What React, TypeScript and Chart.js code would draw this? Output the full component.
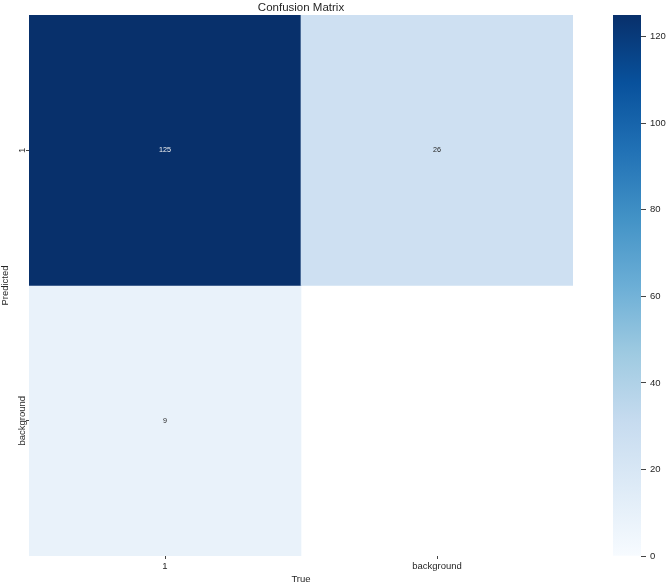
import React, { useEffect, useRef } from "react";
import { Chart, registerables } from "chart.js";

Chart.register(...registerables);

// ---- data ----
const trueLabels = ["1", "background"]; // columns (x axis, "True")
const predictedLabels = ["1", "background"]; // rows (y axis, "Predicted")
const predictedRow1: (number | null)[] = [125, 26];
const predictedRowBackground: (number | null)[] = [9, null];
const colorbarTicks = [0, 20, 40, 60, 80, 100, 120];
const colorMin = 0;
const colorMax = 125;

// ---- style ----
const BLUES = [
  "#f7fbff",
  "#deebf7",
  "#c6dbef",
  "#9ecae1",
  "#6baed6",
  "#4292c6",
  "#2171b5",
  "#08519c",
  "#08306b",
];
const FONT = '"Liberation Sans", Arial, Helvetica, sans-serif';
const TEXT = "#262626";
const TICK = "#444444";

function hexToRgb(h: string): number[] {
  const n = parseInt(h.slice(1), 16);
  return [(n >> 16) & 255, (n >> 8) & 255, n & 255];
}

function blues(t: number): string {
  const c = Math.max(0, Math.min(1, t));
  const p = c * (BLUES.length - 1);
  const i = Math.min(Math.floor(p), BLUES.length - 2);
  const f = p - i;
  const a = hexToRgb(BLUES[i]);
  const b = hexToRgb(BLUES[i + 1]);
  const m = a.map((v, k) => Math.round(v + (b[k] - v) * f));
  return `rgb(${m[0]},${m[1]},${m[2]})`;
}

const norm = (v: number) => (v - colorMin) / (colorMax - colorMin);

export default function App() {
  const mainRef = useRef<HTMLCanvasElement | null>(null);
  const barRef = useRef<HTMLCanvasElement | null>(null);

  useEffect(() => {
    const matrix = [predictedRow1, predictedRowBackground];

    const datasets = predictedLabels.map((rowLabel, i) => ({
      label: rowLabel,
      data: trueLabels.map((_, j) => (matrix[i][j] == null ? null : [i, i + 1])),
      backgroundColor: trueLabels.map((_, j) =>
        matrix[i][j] == null ? "rgba(0,0,0,0)" : blues(norm(matrix[i][j] as number))
      ),
      borderWidth: 0,
      barPercentage: 1,
      categoryPercentage: 1,
      grouped: false,
    }));

    const annotate = {
      id: "cellAnnotations",
      afterDatasetsDraw(chart: any) {
        const ctx = chart.ctx;
        ctx.save();
        ctx.font = `7.2px ${FONT}`;
        ctx.textAlign = "center";
        ctx.textBaseline = "middle";
        chart.data.datasets.forEach((_: any, di: number) => {
          const meta = chart.getDatasetMeta(di);
          meta.data.forEach((bar: any, j: number) => {
            const v = matrix[di][j];
            if (v == null) return;
            const { x, y, base } = bar.getProps(["x", "y", "base"], true);
            ctx.fillStyle = norm(v) > 0.6 ? "#f2f2f2" : TEXT;
            ctx.fillText(String(v), x, (y + base) / 2);
          });
        });
        ctx.restore();
      },
    };

    const main = new Chart(mainRef.current as HTMLCanvasElement, {
      type: "bar",
      data: { labels: trueLabels, datasets: datasets as any },
      options: {
        responsive: false,
        animation: false,
        events: [],
        layout: { padding: 0 },
        plugins: {
          legend: { display: false },
          tooltip: { enabled: false },
          title: {
            display: true,
            text: "Confusion Matrix",
            color: TEXT,
            font: { family: FONT, size: 11.5, weight: "normal" },
            padding: { top: 0.6, bottom: 0.6 },
          },
        },
        scales: {
          x: {
            type: "category",
            offset: true,
            grid: {
              offset: false,
              drawOnChartArea: false,
              drawTicks: true,
              tickLength: 3,
              tickColor: TICK,
              lineWidth: 1,
            },
            border: { display: false },
            ticks: { font: { family: FONT, size: 9.5 }, color: TEXT, padding: 2, maxRotation: 0 },
            title: {
              display: true,
              text: "True",
              color: TEXT,
              font: { family: FONT, size: 9.5 },
              padding: 0,
            },
            afterFit: (s: any) => {
              s.height = 29;
            },
          },
          y: {
            type: "linear",
            min: 0,
            max: predictedLabels.length,
            reverse: true,
            afterBuildTicks: (s: any) => {
              s.ticks = predictedLabels.map((_, i) => ({ value: i + 0.5 }));
            },
            grid: {
              drawOnChartArea: false,
              drawTicks: true,
              tickLength: 3,
              tickColor: TICK,
              lineWidth: 1,
            },
            border: { display: false },
            ticks: {
              callback: (_v: any, i: number) => predictedLabels[i],
              minRotation: 90,
              maxRotation: 90,
              crossAlign: "center",
              padding: -21.5,
              autoSkip: false,
              font: { family: FONT, size: 9.5 },
              color: TEXT,
            },
            title: {
              display: true,
              text: "Predicted",
              color: TEXT,
              font: { family: FONT, size: 9.5 },
              padding: 0,
            },
            afterFit: (s: any) => {
              s.width = 29;
            },
          },
          pad: {
            type: "linear",
            position: "right",
            display: true,
            grid: { display: false },
            ticks: { display: false },
            border: { display: false },
            afterFit: (s: any) => {
              s.width = 29;
            },
          },
        } as any,
      },
      plugins: [annotate],
    });

    const cbar = new Chart(barRef.current as HTMLCanvasElement, {
      type: "bar",
      data: {
        labels: [""],
        datasets: [
          {
            data: [[colorMin, colorMax]] as any,
            backgroundColor: (c: any) => {
              const chart = c.chart;
              const ys = chart.scales && chart.scales.y;
              if (!chart.chartArea || !ys) return BLUES[4];
              const y0 = ys.getPixelForValue(colorMin);
              const y1 = ys.getPixelForValue(colorMax);
              const g = chart.ctx.createLinearGradient(0, y0, 0, y1);
              BLUES.forEach((col, k) => g.addColorStop(k / (BLUES.length - 1), col));
              return g;
            },
            borderWidth: 0,
            barPercentage: 1,
            categoryPercentage: 1,
          },
        ],
      },
      options: {
        responsive: false,
        animation: false,
        events: [],
        layout: { padding: { left: 13, top: 15, bottom: 29, right: 0 } },
        plugins: {
          legend: { display: false },
          tooltip: { enabled: false },
          title: { display: false },
        },
        scales: {
          x: { display: false },
          y: {
            position: "right",
            min: colorMin,
            max: colorMax,
            afterBuildTicks: (s: any) => {
              s.ticks = colorbarTicks.map((v) => ({ value: v }));
            },
            ticks: {
              font: { family: FONT, size: 9.5 },
              color: TEXT,
              padding: 4,
              autoSkip: false,
            },
            grid: {
              drawOnChartArea: false,
              drawTicks: true,
              tickLength: 5,
              tickColor: TICK,
              lineWidth: 1,
            },
            border: { display: false },
            afterFit: (s: any) => {
              s.width = 26;
            },
          },
        } as any,
      },
    });

    return () => {
      main.destroy();
      cbar.destroy();
    };
  }, []);

  return (
    <div
      style={{
        position: "absolute",
        left: 0,
        top: 0,
        width: 667,
        height: 585,
        background: "#ffffff",
        overflow: "hidden",
      }}
    >
      <canvas
        ref={mainRef}
        width={602}
        height={585}
        style={{ position: "absolute", left: 0, top: 0 }}
      />
      <canvas
        ref={barRef}
        width={67}
        height={585}
        style={{ position: "absolute", left: 600, top: 0 }}
      />
    </div>
  );
}
